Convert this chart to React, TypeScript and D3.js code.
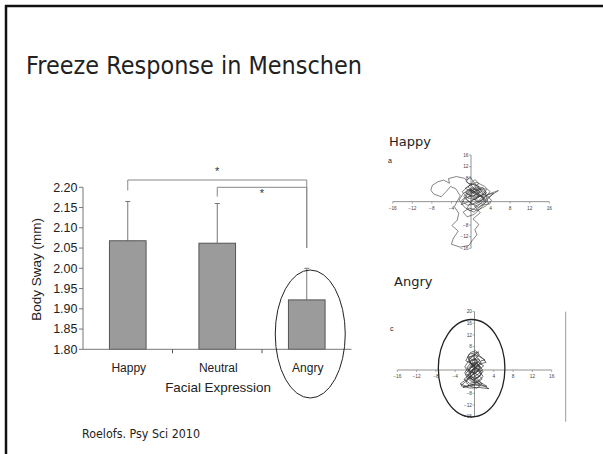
import React from "react";
import * as d3 from "d3";

// ---------- Data ----------
const categories = ["Happy", "Neutral", "Angry"];
const meanSway = [2.068, 2.062, 1.922];
const errorTop = [2.165, 2.16, 2.0];
const yTicks = [1.8, 1.85, 1.9, 1.95, 2.0, 2.05, 2.1, 2.15, 2.2];

// significance brackets
const bracketFrom = ["Happy", "Neutral"];
const bracketTo = ["Angry", "Angry"];
const bracketLevel = [2.218, 2.2];
const bracketLeftDrop = [2.192, 2.177];
const bracketRightDrop = [2.05, 2.05];
const starLevel = [2.243, 2.188];

// sway trajectories (mm): [mediolateral, anteroposterior]
const happyPath: [number, number][] = [
  [0.5, 2], [1.8, 3.5], [0.2, 4.8], [-1.2, 3.1], [0.9, 1.2], [2.6, 2.4], [1.4, 5.6], [-0.6, 6.3],
  [-1.3, 8.0], [-3.0, 8.6], [-4.6, 7.9], [-4.4, 6.3], [-5.6, 7.4], [-6.8, 6.8], [-7.9, 5.6], [-8.2, 3.9],
  [-7.6, 2.6], [-6.1, 1.7], [-5.1, 3.4], [-4.2, 5.2], [-3.1, 4.4], [-2.2, 2.0], [-3.4, -1.7], [-2.5, -4.0],
  [-2.8, -6.3], [-3.9, -8.2], [-2.6, -10.1], [-3.6, -12.5], [-4.0, -14.6], [-2.2, -15.6], [-0.4, -15.0],
  [0.3, -13.2], [1.2, -11.4], [0.8, -9.6], [1.6, -7.8], [0.4, -5.9], [1.9, -3.8], [0.7, -1.6], [2.4, -0.4],
  [3.6, 1.1], [4.6, 2.9], [3.1, 2.2], [2.2, 0.6], [0.3, -0.8], [-1.1, 0.9], [0.6, 3.0], [2.0, 4.2],
  [3.0, 2.8], [1.2, 1.6], [-0.4, 2.4], [1.0, 5.0], [2.8, 3.9], [3.4, 0.2], [1.5, -2.0], [-0.2, -0.3],
  [-1.5, 1.8], [0.1, 4.0], [1.7, 2.2], [0.4, 0.7], [-0.9, -2.4], [0.6, -3.6], [2.2, -1.2], [3.8, -0.8],
  [2.1, 1.9], [0.2, 5.4], [-1.0, 6.9], [-0.2, 8.6], [0.4, 7.0], [1.6, 4.5], [0.0, 2.8],
  [0.8, 3.6], [2.4, 4.8], [3.2, 3.0], [1.6, 0.4], [-0.6, 1.2], [-1.8, 3.4], [-0.2, 5.8], [1.2, 6.6],
  [2.8, 5.2], [3.9, 3.4], [2.6, 1.0], [1.0, -0.8], [-0.8, -1.2], [-1.9, 0.4], [-0.6, 2.6], [0.9, 4.4],
  [2.2, 2.8], [3.5, 1.8], [4.2, 0.4], [2.9, -1.6], [1.3, -3.0], [-0.4, -2.2], [-1.6, -3.6], [-0.8, -5.2],
  [0.6, -4.4], [1.8, -2.6], [3.0, -0.2], [2.0, 2.0], [0.4, 3.2], [-1.2, 4.6], [0.2, 6.0], [1.8, 5.0],
  [3.2, 4.2], [2.4, 2.4], [1.0, 1.0], [-0.4, 0.0], [-2.0, -1.0], [-1.2, 1.4], [0.6, 2.0], [2.2, 3.6],
  [1.4, 4.6], [-0.2, 3.8], [0.8, 2.4], [2.6, 1.4], [3.6, 2.6], [5.6, 3.8], [4.0, 2.0], [2.4, 0.2],
  [1.2, -1.8], [-0.2, -3.2], [-1.4, -1.8], [-2.4, 0.6], [-1.6, 2.8], [-0.4, 4.2], [1.4, 3.0], [2.8, 1.2],
  [1.6, -0.4], [0.0, 1.6], [-1.0, 3.0], [0.4, 4.6], [1.6, 6.2], [0.8, 7.6], [-0.6, 5.0], [0.6, 3.4],
  [1.8, 1.8], [0.6, 0.6],
];
const angryPath: [number, number][] = [
  [0, 0], [-0.8, 1.6], [0.6, 3.0], [-0.4, 4.8], [0.9, 6.2], [-1.1, 5.4], [-1.8, 3.2], [-0.5, 2.1],
  [1.2, 1.0], [0.3, -1.2], [-1.4, -0.6], [-2.0, 1.1], [-0.9, 3.9], [0.4, 5.6], [1.6, 4.2], [2.4, 2.6],
  [1.0, 2.0], [-0.2, 0.4], [-1.6, -2.0], [-0.6, -3.4], [0.8, -2.6], [1.5, -0.8], [0.2, 0.9], [-1.2, 2.6],
  [-0.1, 4.0], [0.7, 1.8], [-0.9, -1.4], [-2.2, -3.2], [-1.0, -4.6], [0.6, -4.0], [1.8, -2.2], [0.9, -0.2],
  [-0.6, -1.8], [-3.0, -4.8], [-1.6, -5.6], [0.2, -5.2], [2.6, -5.6], [1.2, -4.2], [-0.4, -2.8], [-1.3, 0.2],
  [-0.3, 1.6], [1.1, 3.3], [0.1, 5.0], [-1.4, 4.4], [-0.8, 2.4], [0.5, 0.2], [1.4, -1.6], [-0.2, -3.6],
  [-1.8, -1.2], [-0.7, 0.8], [0.8, 2.6], [1.9, 1.4], [0.4, -0.6], [-1.0, -2.4], [0.3, -4.6], [-2.4, -6.0],
  [-0.6, -5.0], [1.6, -4.8], [0.0, -2.0], [-0.5, 0.0],
  [0.2, 1.2], [-0.6, 2.8], [0.4, 4.2], [1.0, 5.4], [0.2, 6.6], [-0.8, 6.0], [-1.4, 4.6], [-0.4, 3.4],
  [0.8, 3.8], [1.4, 2.4], [0.6, 0.6], [-0.8, -0.4], [-1.6, 0.6], [-1.0, 2.0], [0.0, 2.6], [1.0, 1.4],
  [1.6, 0.2], [0.8, -1.4], [-0.2, -2.4], [-1.2, -3.0], [-1.8, -4.2], [-0.8, -5.6], [0.4, -6.2], [1.2, -5.4],
  [0.4, -3.8], [-0.6, -3.2], [-1.4, -1.6], [-0.4, -0.8], [0.6, -0.2], [1.2, 1.2], [0.4, 2.2], [-0.6, 1.0],
  [-1.2, -0.2], [-0.2, -1.0], [0.8, -1.8], [1.6, -3.0], [0.6, -4.4], [-0.6, -4.0], [-1.6, -2.6], [-2.0, -0.8],
  [-1.2, 0.8], [-0.2, 1.8], [0.8, 2.8], [0.2, 3.6], [-1.0, 3.0], [-0.4, 1.4], [0.6, 0.4], [1.8, -0.4],
  [1.0, -2.2], [0.0, -2.8], [-1.0, -2.0], [-0.6, -0.2], [0.4, 0.8], [1.4, 3.2], [2.2, 3.4], [1.0, 4.6],
  [-0.2, 5.4], [-1.2, 3.8], [-0.6, 2.0], [0.2, 0.0], [-0.4, -1.6], [-2.8, -5.4], [-1.0, -6.2], [1.0, -6.0],
  [3.0, -6.4], [1.4, -5.0], [0.2, -4.0],
];
const swayXTicks = [-16, -12, -8, -4, 4, 8, 12, 16];
const happyYTicks = [16, 12, 8, -8, -12, -16];
const angryYTicks = [20, 16, 12, 8, -8, -12, -16];
const angryEllipse = { cx: -0.6, cy: 0.6, rx: 6.9, ry: 16.7 };

// ---------- Component ----------
const ARIAL = "Liberation Sans, Arial, sans-serif";
const GOTHIC = "Century Gothic, DejaVu Sans, sans-serif";

function SwayPlot(props: {
  path: [number, number][];
  xRange: [number, number];
  yDomain: [number, number];
  yRange: [number, number];
  yTicks: number[];
  strokeW: number;
}) {
  const { path, xRange, yDomain, yRange, yTicks: yt, strokeW } = props;
  const xs = d3.scaleLinear().domain([-16, 16]).range(xRange);
  const ys = d3.scaleLinear().domain(yDomain).range(yRange);
  const line = d3.line<[number, number]>().x((d) => xs(d[0])).y((d) => ys(d[1])).curve(d3.curveLinear);
  return (
    <g>
      <line x1={xs(-16)} x2={xs(16)} y1={ys(0)} y2={ys(0)} stroke="#777" strokeWidth={0.8} />
      <line x1={xs(0)} x2={xs(0)} y1={ys(yDomain[0])} y2={ys(yDomain[1])} stroke="#777" strokeWidth={0.8} />
      {swayXTicks.map((t) => (
        <g key={"x" + t}>
          <line x1={xs(t)} x2={xs(t)} y1={ys(0)} y2={ys(0) + 2} stroke="#777" strokeWidth={0.6} />
          <text x={xs(t)} y={ys(0) + 8.5} fontSize={4.8} textAnchor="middle" fill="#444" fontFamily={ARIAL}>
            {t < 0 ? "\u2212" + Math.abs(t) : t}
          </text>
        </g>
      ))}
      {yt.map((t) => (
        <g key={"y" + t}>
          <line x1={xs(0) - 2} x2={xs(0)} y1={ys(t)} y2={ys(t)} stroke="#777" strokeWidth={0.6} />
          <text x={xs(0) - 2.5} y={ys(t) + 1.7} fontSize={4.8} textAnchor="end" fill="#444" fontFamily={ARIAL}>
            {t < 0 ? "\u2212" + Math.abs(t) : t}
          </text>
        </g>
      ))}
      <path d={line(path) || ""} fill="none" stroke="#333" strokeWidth={strokeW} strokeLinejoin="round" />
    </g>
  );
}

export default function App() {
  const W = 603;
  const H = 454;
  const y = d3.scaleLinear().domain([1.8, 2.2]).range([349.3, 187.3]);
  const x = d3.scaleBand().domain(categories).range([83, 351.5]).paddingInner(0.59).paddingOuter(0.295);
  const bw = x.bandwidth();
  const cx = (c: string) => (x(c) as number) + bw / 2;
  const boundaries = categories.slice(0, -1).map((c) => (x(c) as number) + bw + (x.step() * 0.59) / 2);

  const angryEx = d3.scaleLinear().domain([-16, 16]).range([397.3, 551.7]);
  const angryEy = d3.scaleLinear().domain([-16, 20]).range([416.7, 311.6]);

  return (
    <svg width={W} height={H} style={{ position: "absolute", left: 0, top: 0, background: "#fff" }}>
      <rect x={0} y={0} width={W} height={H} fill="#fff" />
      {/* slide border */}
      <line x1={5} x2={W} y1={6} y2={6} stroke="#111" strokeWidth={2.5} />
      <line x1={6} x2={6} y1={5} y2={H} stroke="#111" strokeWidth={2.5} />

      <text x={26} y={74} fontSize={24} fontFamily={GOTHIC} fill="#222" textLength={336} lengthAdjust="spacingAndGlyphs">
        Freeze Response in Menschen
      </text>
      <text x={82} y={438} fontSize={12.5} fontFamily={GOTHIC} fill="#222" textLength={118} lengthAdjust="spacingAndGlyphs">
        Roelofs. Psy Sci 2010
      </text>

      {/* bar chart */}
      {categories.map((c, i) => (
        <g key={c}>
          <line x1={cx(c)} x2={cx(c)} y1={y(meanSway[i])} y2={y(errorTop[i])} stroke="#777" strokeWidth={1} />
          <line x1={cx(c) - 2.5} x2={cx(c) + 2.5} y1={y(errorTop[i])} y2={y(errorTop[i])} stroke="#777" strokeWidth={1} />
          <rect x={x(c)} y={y(meanSway[i])} width={bw} height={y(1.8) - y(meanSway[i])} fill="#9b9b9b" stroke="#4a4a4a" strokeWidth={0.9} />
        </g>
      ))}
      <line x1={83} x2={83} y1={y(2.2)} y2={y(1.8)} stroke="#777" strokeWidth={1} />
      <line x1={83} x2={351.5} y1={y(1.8)} y2={y(1.8)} stroke="#777" strokeWidth={1} />
      {yTicks.map((t) => (
        <g key={t}>
          <line x1={79} x2={83} y1={y(t)} y2={y(t)} stroke="#777" strokeWidth={1} />
          <text x={77.5} y={y(t) + 4.3} fontSize={12.5} textAnchor="end" fontFamily={ARIAL} fill="#222">
            {t.toFixed(2)}
          </text>
        </g>
      ))}
      {boundaries.map((b, i) => (
        <line key={i} x1={b} x2={b} y1={y(1.8)} y2={y(1.8) + 4} stroke="#555" strokeWidth={1} />
      ))}
      {categories.map((c) => (
        <text key={c} x={cx(c) + 1} y={372} fontSize={12} textAnchor="middle" fontFamily={ARIAL} fill="#222">
          {c}
        </text>
      ))}
      <text x={218} y={392} fontSize={13.4} textAnchor="middle" fontFamily={ARIAL} fill="#222">
        Facial Expression
      </text>
      <text transform={`translate(41,${(y(1.8) + y(2.2)) / 2 + 1}) rotate(-90)`} fontSize={13.5} textAnchor="middle" fontFamily={ARIAL} fill="#222">
        Body Sway (mm)
      </text>

      {bracketFrom.map((f, i) => {
        const x1 = cx(f);
        const x2 = cx(bracketTo[i]);
        return (
          <g key={i}>
            <path
              d={`M${x1},${y(bracketLeftDrop[i])}V${y(bracketLevel[i])}H${x2}V${y(bracketRightDrop[i])}`}
              fill="none"
              stroke="#888"
              strokeWidth={1}
            />
            <text x={(x1 + x2) / 2} y={y(starLevel[i]) + 5} fontSize={11} textAnchor="middle" fontFamily={ARIAL} fill="#333">
              *
            </text>
          </g>
        );
      })}
      <ellipse cx={cx("Angry") + 3.5} cy={334} rx={35} ry={64} fill="none" stroke="#222" strokeWidth={1} />

      {/* sway plots */}
      <text x={389} y={146} fontSize={13} fontFamily={GOTHIC} fill="#222">Happy</text>
      <text x={388} y={163} fontSize={7} fontFamily={ARIAL} fill="#222">a</text>
      <SwayPlot path={happyPath} xRange={[392.7, 549.3]} yDomain={[-16, 16]} yRange={[248.3, 155]} yTicks={happyYTicks} strokeW={0.6} />

      <text x={394} y={286} fontSize={13} fontFamily={GOTHIC} fill="#222">Angry</text>
      <text x={390} y={331} fontSize={7} fontFamily={ARIAL} fill="#222">c</text>
      <SwayPlot path={angryPath} xRange={[397.3, 551.7]} yDomain={[-16, 20]} yRange={[416.7, 311.6]} yTicks={angryYTicks} strokeW={0.7} />
      <ellipse
        cx={angryEx(angryEllipse.cx)}
        cy={angryEy(angryEllipse.cy)}
        rx={angryEx(angryEllipse.rx) - angryEx(0)}
        ry={angryEy(0) - angryEy(angryEllipse.ry)}
        fill="none"
        stroke="#222"
        strokeWidth={1.3}
      />
      <line x1={565.7} x2={565.7} y1={311.7} y2={421.7} stroke="#999" strokeWidth={1} />
    </svg>
  );
}
